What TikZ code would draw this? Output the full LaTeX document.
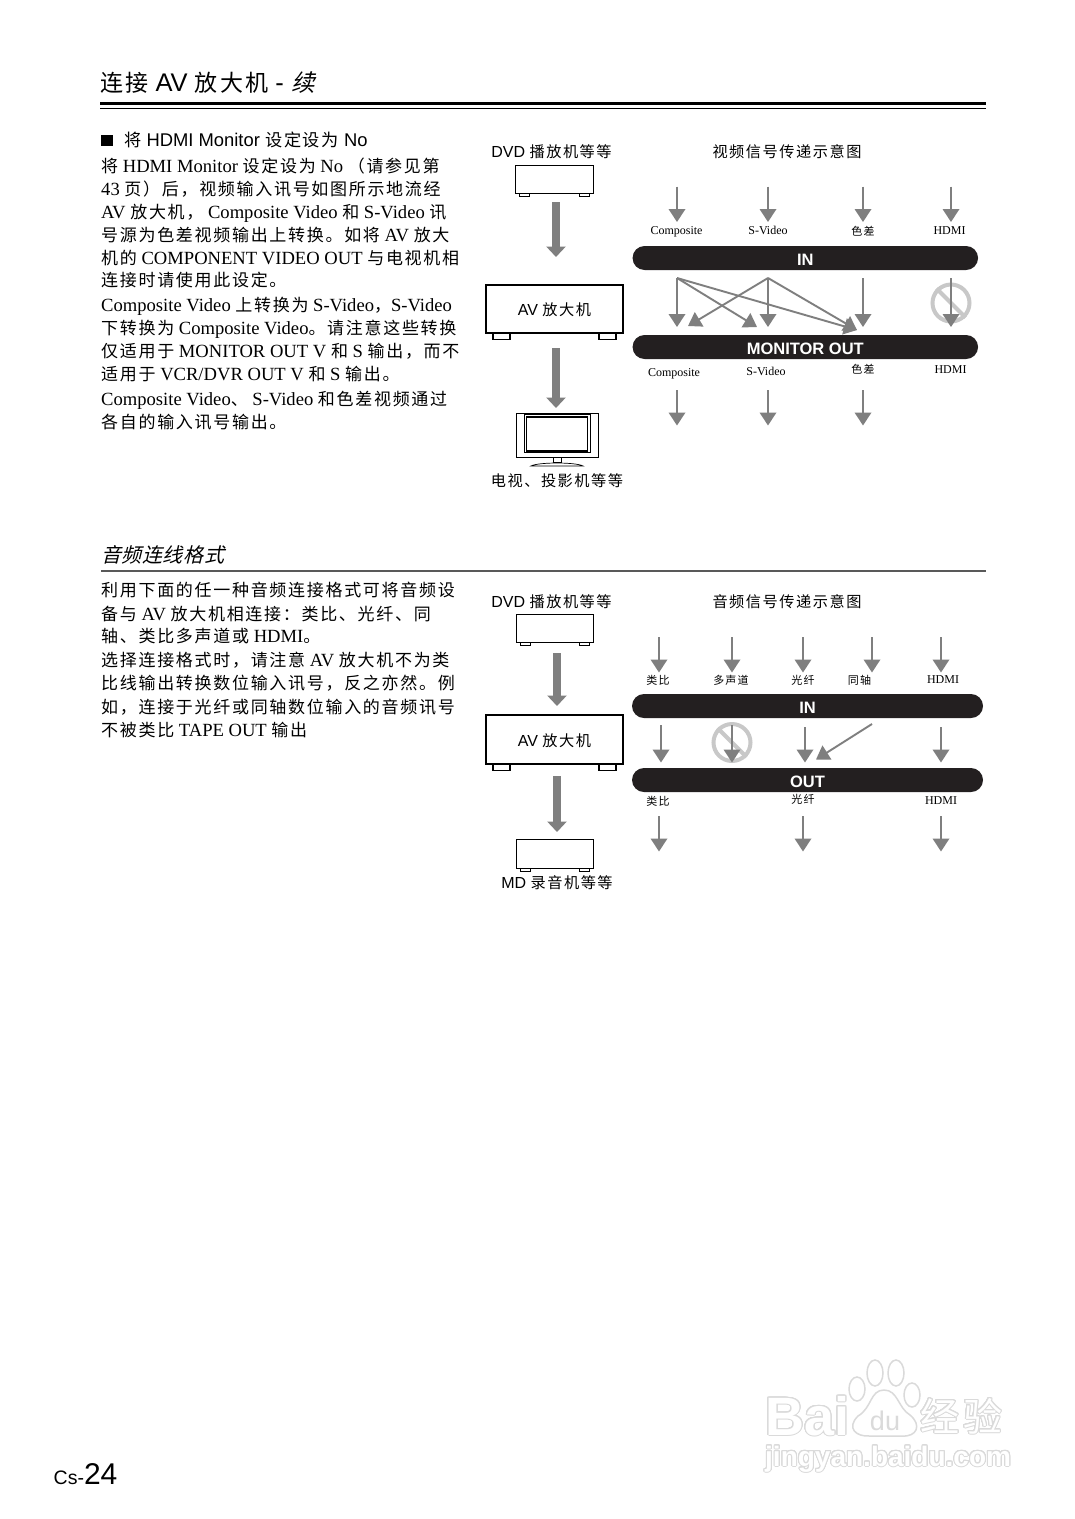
\documentclass[tikz,border=0pt]{standalone}
\usepackage{fontspec}
\usepackage[copies]{contour}
\usetikzlibrary{arrows.meta}
\setmainfont{Liberation Serif}
\newfontfamily\hei{Liberation Sans}
\newfontfamily\cjkf[LetterSpace=10]{Noto Sans CJK SC}
\newfontfamily\cjkfs[FakeSlant=0.25,LetterSpace=3]{Noto Sans CJK SC}
\newcommand\fs[2]{\fontsize{#1}{#2}\selectfont}
\newcommand\zh[1]{{\cjkf\fs{17}{18}#1}}
\definecolor{arrowgray}{HTML}{7F7F7F}
\definecolor{barblack}{HTML}{231F20}
\definecolor{noring}{HTML}{C8C8C8}
\definecolor{wm}{HTML}{DADADA}
\contournumber{24}
\contourlength{1pt}
\tikzset{
  thinarrow/.style={draw=arrowgray,line width=1.9pt,-{Triangle[length=13pt,width=16.5pt]}},
  fatarrow/.style={draw=arrowgray,line width=7.5pt,-{Triangle[length=10.5pt,width=19pt]}},
  barnode/.style={fill=barblack,rounded corners=12pt,inner sep=0pt,text=white,text height=14.2pt,text depth=0pt,font=\hei\bfseries\fs{16.5}{18}},
  bodyline/.style={anchor=base west,inner sep=0pt,font=\fs{18.6}{20}},
  saline/.style={inner sep=0pt,font=\hei\fs{16}{18}},
  cjklabel/.style={inner sep=0pt,font=\cjkf\fs{15.2}{18}},
  smalllabel/.style={inner sep=0pt,yshift=-1pt,text height=8pt,text depth=2pt,font=\fs{12}{14}},
  smallcjk/.style={smalllabel,font=\cjkf\fs{11}{14}},
  devbox/.style={draw=black,fill=white,inner sep=0pt,line width=0.8pt,text height=13pt,text depth=0pt},
  foot/.style={draw=black,fill=white,line width=0.7pt},
  noring/.style={draw=noring,line width=4pt},
}
% name, x, y1, y2
\newcommand\varrow[4]{\coordinate (#1s) at (#2,#3);\coordinate (#1e) at (#2,#4);\draw[thinarrow] (#1s) -- (#1e);}
\newcommand\fatarr[4]{\coordinate (#1s) at (#2,#3);\coordinate (#1e) at (#2,#4);\draw[fatarrow] (#1s) -- (#1e);}
\newcommand\bodyln[3]{\node[bodyline] (#1) at (101,{#2+6.3}) {#3};}
% name,x1,y1,x2,y2,foot width,inset,line width,text
\newcommand\device[9]{%
  \draw[foot,line width=#8] ({#2+#7},#5) rectangle ({#2+#7+#6},{#5+(#6)*0.38});
  \draw[foot,line width=#8] ({#4-#7-#6},#5) rectangle ({#4-#7},{#5+(#6)*0.38});
  \node[devbox,line width=#8,minimum width={(#4-#2)*1pt},minimum height={(#5-#3)*1pt},font=\hei\fs{16}{18}] (#1) at ({(#2+#4)/2},{(#3+#5)/2}) {#9};}
\newcommand\nosign[3]{%
  \node[circle,noring,minimum size=37pt,inner sep=0pt] (#1) at (#2,#3) {};
  \draw[noring] (#1.135) -- (#1.-45);}
\begin{document}
\begin{tikzpicture}[x=1pt,y=-1pt]
\useasboundingbox[fill=white] (0,0) rectangle (1075,1519);

% header
\node[anchor=base west,inner sep=0pt,font=\hei\fs{25.5}{28}] (title) at (100,91) {{\cjkf\fs{23}{28}连接}~AV~{\cjkf\fs{23}{28}放大机}~-~{\cjkfs\fs{23.5}{28}续}};
\coordinate (r1a) at (100,103.3);\coordinate (r1b) at (986,103.3);
\draw[line width=3.4pt] (r1a) -- (r1b);
\coordinate (r2a) at (100,108.2);\coordinate (r2b) at (986,108.2);
\draw[line width=1pt] (r2a) -- (r2b);

% first text block
\node[anchor=base west,inner sep=0pt,font=\hei\fs{18.4}{20}] (h1) at (101,146) {\rule{12pt}{11pt}\hspace{11pt}{\cjkf\fs{17.2}{18}将}~HDMI~Monitor~{\cjkf\fs{17.2}{18}设定设为}~No};
\bodyln{b1}{166}{\zh{将}~HDMI~Monitor~\zh{设定设为}~No~\zh{（请参见第}}
\bodyln{b2}{189}{43~\zh{页）后，视频输入讯号如图所示地流经}}
\bodyln{b3}{212}{AV~\zh{放大机，}~Composite~Video~\zh{和}~S-Video~\zh{讯}}
\bodyln{b4}{235}{\zh{号源为色差视频输出上转换。如将}~AV~\zh{放大}}
\bodyln{b5}{258}{\zh{机的}~COMPONENT~VIDEO~OUT~\zh{与电视机相}}
\bodyln{b6}{280}{\zh{连接时请使用此设定。}}
\bodyln{b7}{305}{Composite~Video~\zh{上转换为}~S-Video\zh{，}S-Video}
\bodyln{b8}{328}{\zh{下转换为}~Composite~Video\zh{。请注意这些转换}}
\bodyln{b9}{351}{\zh{仅适用于}~MONITOR~OUT~V~\zh{和}~S~\zh{输出，而不}}
\bodyln{b10}{374}{\zh{适用于}~VCR/DVR~OUT~V~\zh{和}~S~\zh{输出。}}
\bodyln{b11}{399}{Composite~Video\zh{、}~S-Video~\zh{和色差视频通过}}
\bodyln{b12}{422}{\zh{各自的输入讯号输出。}}

% first diagram, left column
\node[saline] (d1src) at (551.5,152) {DVD~{\cjkf\fs{15.2}{18}播放机等等}};
\node[cjklabel] (d1title) at (787,152) {视频信号传递示意图};
\device{d1dvd}{515}{165}{593}{193}{10}{4}{0.7pt}{}
\device{d1av}{486}{285}{623}{333}{17}{7}{1.4pt}{AV~{\cjkf\fs{15.2}{18}放大机}}
\fatarr{f1}{556}{202}{257}
\fatarr{f2}{556}{348}{408}
% television
\node[draw=black,fill=white,line width=0.7pt,minimum width=82pt,minimum height=44pt,inner sep=0pt] (tv) at (557,435) {};
\node[draw=black,line width=0.8pt,minimum width=66pt,minimum height=38pt,inner sep=0pt] (tvpanel) at (557,433) {};
\node[draw=black,line width=1.2pt,minimum width=61pt,minimum height=34pt,inner sep=0pt] (tvscreen) at (557,434) {};
\draw[line width=0.7pt] (553,457) rectangle (561,462);
\draw[line width=0.7pt,fill=white] (531,466) .. controls (538,462) and (576,462) .. (583,466) -- cycle;
\node[cjklabel] (d1tv) at (557,481) {电视、投影机等等};

\varrow{a1}{677}{186.5}{222}
\varrow{a2}{768}{186.5}{222}
\varrow{a3}{863}{186.5}{222}
\varrow{a4}{951}{186.5}{222}
\node[smalllabel] (l1) at (676.5,230) {Composite};
\node[smalllabel] (l2) at (768,230) {S-Video};
\node[smallcjk] (l3) at (863,231) {色差};
\node[smalllabel] (l4) at (949.5,230) {HDMI};
\node[barnode,minimum width=345.5pt,minimum height=24pt] (in1) at (805.3,258) {IN};
\nosign{no1}{951}{303}
\coordinate (m1) at (677,278);\coordinate (m2) at (768,278);\coordinate (m3) at (863,278);\coordinate (m4) at (951,278);
\coordinate (t1) at (677,327);\coordinate (t2) at (768,327);\coordinate (t3) at (863,327);\coordinate (t4) at (951,327);
\coordinate (t12) at (757,327);\coordinate (t21) at (688,326);\coordinate (t13) at (857,330);
\draw[thinarrow] (m1) -- (t1);
\draw[thinarrow] (m1) -- (t12);
\draw[thinarrow] (m1) -- (t13);
\draw[thinarrow] (m2) -- (t21);
\draw[thinarrow] (m2) -- (t2);
\draw[thinarrow] (m2) -- (t13);
\draw[thinarrow] (m3) -- (t3);
\draw[thinarrow] (m4) -- (t4);
\node[barnode,minimum width=345.5pt,minimum height=24pt] (out1) at (805.3,347) {MONITOR OUT};
\node[smalllabel] (l5) at (674,372) {Composite};
\node[smalllabel] (l6) at (766,371) {S-Video};
\node[smallcjk] (l7) at (863,369) {色差};
\node[smalllabel] (l8) at (950.5,369) {HDMI};
\varrow{b1a}{677}{390}{425.5}
\varrow{b2a}{768}{390}{425.5}
\varrow{b3a}{863}{390}{425.5}

% second heading
\node[anchor=base west,inner sep=0pt,font=\cjkfs\fs{20}{22}] (h2) at (101,562) {音频连线格式};
\coordinate (r3a) at (101,571);\coordinate (r3b) at (986,571);
\draw[line width=1.5pt,draw=black!65] (r3a) -- (r3b);

% second text block
\bodyln{c1}{590}{\zh{利用下面的任一种音频连接格式可将音频设}}
\bodyln{c2}{614}{\zh{备与}~AV~\zh{放大机相连接：类比、光纤、同}}
\bodyln{c3}{636}{\zh{轴、类比多声道或}~HDMI\zh{。}}
\bodyln{c4}{660}{\zh{选择连接格式时，请注意}~AV~\zh{放大机不为类}}
\bodyln{c5}{683}{\zh{比线输出转换数位输入讯号，反之亦然。例}}
\bodyln{c6}{707}{\zh{如，连接于光纤或同轴数位输入的音频讯号}}
\bodyln{c7}{730}{\zh{不被类比}~TAPE~OUT~\zh{输出}}

% second diagram
\node[saline] (d2src) at (551.5,602) {DVD~{\cjkf\fs{15.2}{18}播放机等等}};
\node[cjklabel] (d2title) at (787,602) {音频信号传递示意图};
\device{d2dvd}{516}{614}{593}{642}{10}{4}{0.7pt}{}
\device{d2av}{486}{715}{623}{764}{17}{7}{1.4pt}{AV~{\cjkf\fs{15.2}{18}放大机}}
\device{d2md}{516}{839}{593}{868}{10}{4}{0.7pt}{}
\fatarr{g1}{557}{653}{706}
\fatarr{g2}{557}{776}{832}
\node[saline] (d2md2) at (557,883) {MD~{\cjkf\fs{15.2}{18}录音机等等}};

\varrow{p1}{659}{637}{672.5}
\varrow{p2}{732}{637}{672.5}
\varrow{p3}{803}{637}{672.5}
\varrow{p4}{872}{637}{672.5}
\varrow{p5}{941}{637}{672.5}
\node[smallcjk] (q1) at (658,680.5) {类比};
\node[smallcjk] (q2) at (731,680.5) {多声道};
\node[smallcjk] (q3) at (803,680.5) {光纤};
\node[smallcjk] (q4) at (859.5,680.5) {同轴};
\node[smalllabel] (q5) at (943,679) {HDMI};
\node[barnode,minimum width=351pt,minimum height=24pt] (in2) at (807.5,706) {IN};
\nosign{no2}{732}{742.5}
\varrow{r1}{661}{725}{762.5}
\varrow{r2}{732}{725}{762.5}
\varrow{r3}{805}{727}{762.5}
\varrow{r5}{941}{727}{762.5}
\coordinate (r4s) at (872,724);\coordinate (r4e) at (816,759.5);
\draw[thinarrow] (r4s) -- (r4e);
\node[barnode,minimum width=351pt,minimum height=24pt] (out2) at (807.5,780) {OUT};
\node[smallcjk] (q6) at (658,801.5) {类比};
\node[smallcjk] (q7) at (803,799.5) {光纤};
\node[smalllabel] (q8) at (941,800.5) {HDMI};
\varrow{s1}{659}{816}{851.5}
\varrow{s2}{803}{816}{851.5}
\varrow{s3}{941}{816}{851.5}

% page number
\node[anchor=base west,inner sep=0pt,font=\hei\fs{19.5}{22}] (pg) at (53.5,1484) {Cs-\fs{30}{32}24};

% watermark
\begin{scope}[draw=wm,line width=1.5pt,fill=white]
\draw (857,1389) ellipse [x radius=8,y radius=12];
\draw (875,1373) ellipse [x radius=8,y radius=13];
\draw (896,1373) ellipse [x radius=8,y radius=13];
\draw (912,1395) ellipse [x radius=8,y radius=12];
\draw (884,1390) .. controls (870,1390) and (872,1408) .. (858,1416) .. controls (846,1428) and (856,1437) .. (870,1436) -- (902,1436) .. controls (917,1437) and (922,1425) .. (910,1415) .. controls (898,1408) and (898,1390) .. (884,1390) -- cycle;
\end{scope}
\node[anchor=base west,inner sep=0pt,text=white,font=\hei\bfseries\fs{54}{56}] (wmbai) at (765,1435) {\contour{wm}{Bai}};
\node[anchor=base,inner sep=0pt,text=wm,font=\hei\fs{27}{29}] (wmdu) at (885,1430) {du};
\node[anchor=base west,inner sep=0pt,text=white,font=\cjkf\fs{39}{41}] (wmjy) at (920,1431) {\contour{wm}{经验}};
\node[anchor=base west,inner sep=0pt,text=white,font=\hei\bfseries\fs{28}{30}] (wmurl) at (765,1466) {\contour{wm}{jingyan.baidu.com}};
\end{tikzpicture}
\end{document}
